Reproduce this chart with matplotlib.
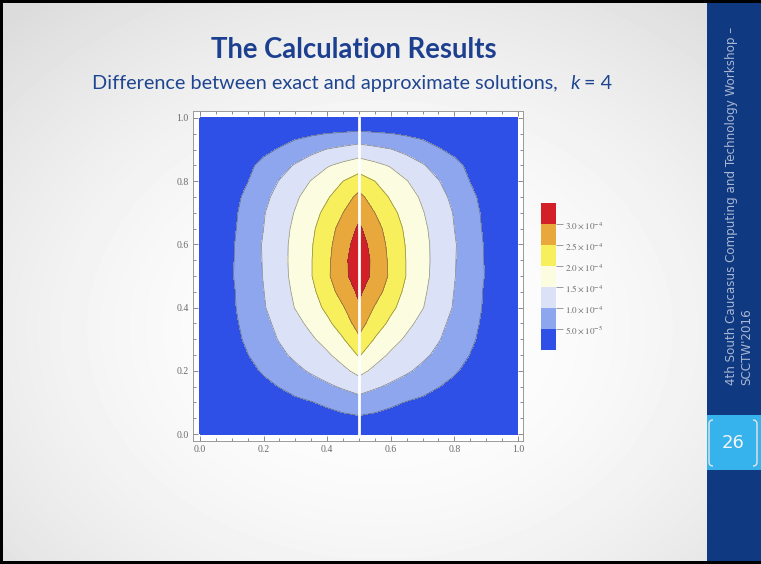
import numpy as np
import matplotlib
matplotlib.use("Agg")
import matplotlib.pyplot as plt
from matplotlib.colors import ListedColormap, BoundaryNorm
from matplotlib.patches import Rectangle, PathPatch
from matplotlib.path import Path
from matplotlib.ticker import MultipleLocator, FixedLocator, FixedFormatter

W, H, DPI = 761, 564, 100

# ---------------- text ----------------
TITLE = "The Calculation Results"
SUBTITLE = "Difference between exact and approximate solutions,"
SUB_K = "k"
SUB_EQ = "= 4"
SIDEBAR_1 = "4th South Caucasus Computing and Technology Workshop \u2013"
SIDEBAR_2 = "SCCTW'2016"
PAGE = "26"

# ---------------- data ----------------
# contour levels (units of 1e-4)
SCALE = 1e-4
levels = [0.0, 0.5, 1.0, 1.5, 2.0, 2.5, 3.0, 3.5]
band_colors = ["#2f50e6", "#8da6ed", "#dbe2f8", "#fcfce1", "#f8ef5c", "#e8a83c", "#d31f27"]

# grid nodes: right half of the domain (field is mirror-symmetric about x = 0.5)
x_half = [0.50, 0.55, 0.60, 0.65, 0.70, 0.75, 0.80, 0.85, 0.90, 0.95, 1.00]
y_rows = [0.00, 0.05, 0.10, 0.15, 0.20, 0.25, 0.30, 0.35, 0.40, 0.45, 0.50,
          0.55, 0.60, 0.65, 0.70, 0.75, 0.80, 0.85, 0.90, 0.95, 1.00]
# estimated |exact - approximate| (x1e-4), one row per y
err_half = [
    [0.00, 0.00, 0.00, 0.00, 0.00, 0.00, 0.00, 0.00, 0.00, 0.00, 0.00],
    [0.44, 0.40, 0.34, 0.29, 0.25, 0.21, 0.17, 0.13, 0.09, 0.05, 0.00],
    [0.80, 0.69, 0.58, 0.48, 0.41, 0.34, 0.28, 0.21, 0.14, 0.07, 0.00],
    [1.21, 1.06, 0.92, 0.78, 0.65, 0.51, 0.41, 0.31, 0.20, 0.10, 0.00],
    [1.65, 1.39, 1.22, 1.06, 0.89, 0.72, 0.54, 0.40, 0.27, 0.13, 0.00],
    [2.04, 1.70, 1.43, 1.26, 1.09, 0.90, 0.70, 0.49, 0.33, 0.16, 0.00],
    [2.42, 1.97, 1.68, 1.43, 1.23, 1.03, 0.81, 0.57, 0.37, 0.19, 0.00],
    [2.70, 2.24, 1.90, 1.62, 1.36, 1.12, 0.88, 0.63, 0.40, 0.20, 0.00],
    [2.95, 2.46, 2.10, 1.80, 1.52, 1.24, 0.96, 0.69, 0.43, 0.22, 0.00],
    [3.08, 2.72, 2.26, 1.89, 1.58, 1.29, 0.99, 0.71, 0.44, 0.22, 0.00],
    [3.20, 2.90, 2.41, 1.98, 1.64, 1.32, 1.02, 0.74, 0.47, 0.23, 0.00],
    [3.25, 2.89, 2.39, 1.98, 1.65, 1.33, 1.03, 0.74, 0.46, 0.23, 0.00],
    [3.20, 2.82, 2.35, 1.96, 1.64, 1.33, 1.04, 0.73, 0.45, 0.22, 0.00],
    [3.07, 2.70, 2.27, 1.91, 1.60, 1.30, 1.00, 0.70, 0.42, 0.21, 0.00],
    [2.87, 2.50, 2.13, 1.82, 1.53, 1.25, 0.97, 0.66, 0.40, 0.20, 0.00],
    [2.62, 2.28, 1.95, 1.70, 1.43, 1.16, 0.88, 0.59, 0.37, 0.19, 0.00],
    [2.24, 2.00, 1.76, 1.52, 1.27, 1.02, 0.76, 0.49, 0.33, 0.17, 0.00],
    [1.75, 1.61, 1.46, 1.25, 1.04, 0.82, 0.60, 0.42, 0.28, 0.14, 0.00],
    [1.22, 1.12, 1.02, 0.87, 0.70, 0.53, 0.41, 0.31, 0.21, 0.10, 0.00],
    [0.60, 0.55, 0.51, 0.44, 0.38, 0.31, 0.25, 0.19, 0.13, 0.06, 0.00],
    [0.00, 0.00, 0.00, 0.00, 0.00, 0.00, 0.00, 0.00, 0.00, 0.00, 0.00],
]
x_ticks = [0.0, 0.2, 0.4, 0.6, 0.8, 1.0]
y_ticks = [0.0, 0.2, 0.4, 0.6, 0.8, 1.0]

# ---------------- assemble full grid by mirroring ----------------
xh = np.array(x_half)
x_full = np.concatenate([2 * xh[0] - xh[::-1][:-1], xh])
z_half = np.array(err_half)
z_full = np.hstack([z_half[:, ::-1][:, :-1], z_half]) * SCALE
y_arr = np.array(y_rows)
lev = np.array(levels) * SCALE

plt.rcParams["mathtext.fontset"] = "stix"

fig = plt.figure(figsize=(W / DPI, H / DPI), dpi=DPI)

# ---------------- slide background ----------------
bg = fig.add_axes([0, 0, 1, 1])
bg.set_xlim(0, W)
bg.set_ylim(H, 0)
bg.axis("off")
gx, gy = np.meshgrid(np.linspace(0, W, 200), np.linspace(0, H, 150))
d = np.sqrt(((gx - 380) / 420.0) ** 2 + ((gy - 330) / 330.0) ** 2)
shade = 0.99 - 0.13 * np.clip(d - 0.3, 0, 1) ** 1.5
bg.imshow(shade, extent=(0, W, H, 0), cmap="gray", vmin=0, vmax=1,
          interpolation="bilinear", aspect="auto", zorder=0)

# sidebar
bg.add_patch(Rectangle((707, 0), W - 707, H, facecolor="#0f3a82", edgecolor="none", zorder=1))
bg.add_patch(Rectangle((707, 415), W - 707, 55, facecolor="#36b3ec", edgecolor="none", zorder=2))
# slide border
bg.add_patch(Rectangle((0, 0), W, 2.5, facecolor="black", edgecolor="none", zorder=5))
bg.add_patch(Rectangle((0, 0), 2.5, H, facecolor="black", edgecolor="none", zorder=5))
bg.add_patch(Rectangle((0, H - 3), W, 3, facecolor="black", edgecolor="none", zorder=5))

renderer = fig.canvas.get_renderer()


def fit(t, target, vertical=False):
    for _ in range(3):
        bb = t.get_window_extent(renderer)
        cur = bb.height if vertical else bb.width
        t.set_fontsize(t.get_fontsize() * target / cur)


title_font = ["Lato", "DejaVu Sans"]
t = bg.text(354, 58, TITLE, ha="center", va="baseline", fontsize=22,
            fontweight="bold", color="#1d3f8f", family=title_font, zorder=6)
fit(t, 287)

s = bg.text(92, 89, SUBTITLE, ha="left", va="baseline", fontsize=15,
            color="#1f4591", family=title_font, zorder=6)
fit(s, 465)
fs = s.get_fontsize()
bg.text(570, 89, SUB_K, ha="left", va="baseline", fontsize=fs, style="italic",
        color="#1f4591", family=title_font, zorder=6)
bg.text(584, 89, SUB_EQ, ha="left", va="baseline", fontsize=fs,
        color="#1f4591", family=title_font, zorder=6)

side_font = ["DejaVu Sans"]
sb1 = bg.text(732, 385, SIDEBAR_1, rotation=90, ha="center", va="bottom",
              fontsize=8, color="#aab6d2", family=side_font, zorder=6)
fit(sb1, 357, vertical=True)
bg.text(747, 385, SIDEBAR_2, rotation=90, ha="center", va="bottom",
        fontsize=sb1.get_fontsize(), color="#aab6d2", family=side_font, zorder=6)

bg.text(733, 443, PAGE, ha="center", va="center", fontsize=13,
        color="#f4f4f4", family=side_font, zorder=6)


def bracket(x0, sgn):
    verts = [(x0 + sgn * 4, 420), (x0, 420), (x0, 424), (x0, 462), (x0, 466), (x0 + sgn * 4, 466)]
    codes = [Path.MOVETO, Path.CURVE3, Path.CURVE3, Path.LINETO, Path.CURVE3, Path.CURVE3]
    bg.add_patch(PathPatch(Path(verts, codes), facecolor="none", edgecolor="#e6e6e6",
                           lw=1.0, zorder=6))


bracket(709, 1)
bracket(757, -1)

# ---------------- contour plot ----------------
ax_l, ax_r, ax_t, ax_b = 193, 523, 111, 441
ax = fig.add_axes([ax_l / W, 1 - ax_b / H, (ax_r - ax_l) / W, (ax_b - ax_t) / H])
ax.set_facecolor("white")
cmap = ListedColormap(band_colors)
norm = BoundaryNorm(lev, cmap.N)
cs = ax.contourf(x_full, y_arr, z_full, levels=lev, cmap=cmap, norm=norm)
ax.contour(x_full, y_arr, z_full, levels=lev[1:-1], colors="#4a4a4a",
           linewidths=0.5, alpha=0.65)
ax.set_xlim(-0.022, 1.016)
ax.set_ylim(-0.022, 1.022)
ylo, yhi = ax.get_ylim()
ax.axvline(xh[0], ymin=(y_arr[0] - ylo) / (yhi - ylo), ymax=(y_arr[-1] - ylo) / (yhi - ylo),
           color="white", lw=2.0)

ax.xaxis.set_major_locator(FixedLocator(x_ticks))
ax.yaxis.set_major_locator(FixedLocator(y_ticks))
ax.xaxis.set_major_formatter(FixedFormatter([f"{v:.1f}" for v in x_ticks]))
ax.yaxis.set_major_formatter(FixedFormatter([f"{v:.1f}" for v in y_ticks]))
ax.xaxis.set_minor_locator(MultipleLocator(0.05))
ax.yaxis.set_minor_locator(MultipleLocator(0.05))
ax.tick_params(which="both", direction="in", top=True, right=True, color="#777777", width=0.6)
ax.tick_params(which="major", length=3.5, labelsize=7, labelcolor="#6a6a6a", pad=3)
ax.tick_params(which="minor", length=2)
for lab in ax.get_xticklabels() + ax.get_yticklabels():
    lab.set_family(["Liberation Serif", "DejaVu Serif"])
for sp in ax.spines.values():
    sp.set_color("#9a9a9a")
    sp.set_linewidth(0.7)

# ---------------- legend (colour bar) ----------------
cax = fig.add_axes([541 / W, 1 - 350 / H, 15 / W, 147 / H])
cbar = fig.colorbar(cs, cax=cax, ticks=lev[1:-1])


def sci(v):
    e = int(np.floor(np.log10(v) + 1e-9))
    m = v / 10 ** e
    return r"$%.1f\times10^{%d}$" % (m, e)


cbar.set_ticklabels([sci(v) for v in lev[1:-1]])
cbar.minorticks_off()
cbar.outline.set_visible(False)
cbar.ax.tick_params(which="both", length=5, width=0.6, color="#8a8a8a", labelsize=6.5,
                    labelcolor="#6a6a6a", pad=1.5)
cbar.ax.tick_params(which="minor", length=0)

fig.savefig("out.png", dpi=DPI)
